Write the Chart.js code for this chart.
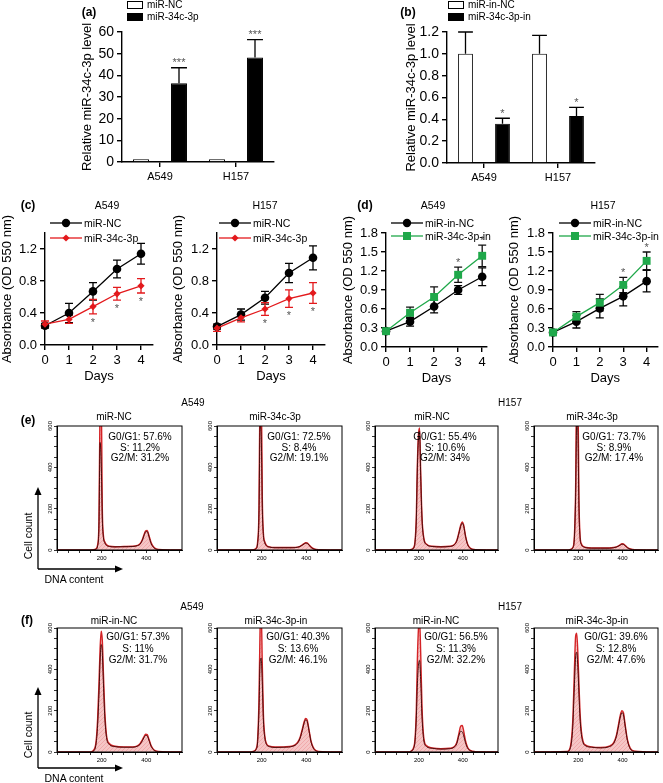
<!DOCTYPE html>
<html>
<head>
<meta charset="utf-8">
<script src="https://cdn.jsdelivr.net/npm/chart.js@4.4.1/dist/chart.umd.min.js"></script>
<style>
  html, body { margin: 0; background: #fff; }
  #fig { position: relative; width: 663px; height: 783px; overflow: hidden; font-family: "Liberation Sans", Arial, sans-serif; color: #000; }
  .t { position: absolute; white-space: nowrap; transform: translate(-50%, -50%); line-height: 1; z-index: 2; }
  .box { position: absolute; }
  .leg { position: absolute; display: flex; align-items: center; white-space: nowrap; line-height: 1; height: 12px; z-index: 2; }
  .key { display: inline-block; width: 14px; height: 6px; border: 1px solid #000; margin-right: 4px; }
</style>
</head>
<body>
<div id="fig"></div>
<script>
// (a) / (b) qRT-PCR
const cellLines = ['A549', 'H157'];
const aSeries = ['miR-NC', 'miR-34c-3p'];
const aNC = [1.3, 1.3];
const aMimic = [36.3, 48.2];
const aMimicErr = [7.2, 8.3];
const aStars = ['***', '***'];
const aTicks = [0, 10, 20, 30, 40, 50, 60];

const bSeries = ['miR-in-NC', 'miR-34c-3p-in'];
const bNC = [1.0, 1.0];
const bNCErr = [0.2, 0.17];
const bInh = [0.36, 0.43];
const bInhErr = [0.05, 0.08];
const bStars = ['*', '*'];
const bTicks = [0, 0.2, 0.4, 0.6, 0.8, 1.0, 1.2];

// (c) / (d) proliferation
const days = [0, 1, 2, 3, 4];
const cSeries = ['miR-NC', 'miR-34c-3p'];
const cTicks = [0, 0.2, 0.4, 0.6, 0.8, 1.0, 1.2, 1.4];
const cA549NC = [0.24, 0.40, 0.67, 0.95, 1.14];
const cA549NCErr = [0.03, 0.12, 0.11, 0.11, 0.13];
const cA549Mimic = [0.26, 0.32, 0.48, 0.64, 0.74];
const cA549MimicErr = [0.04, 0.05, 0.09, 0.08, 0.09];
const cH157NC = [0.23, 0.38, 0.59, 0.90, 1.09];
const cH157NCErr = [0.03, 0.07, 0.08, 0.12, 0.15];
const cH157Mimic = [0.21, 0.34, 0.45, 0.58, 0.65];
const cH157MimicErr = [0.04, 0.05, 0.08, 0.11, 0.13];
const cStars = ['', '', '*', '*', '*'];

const dSeries = ['miR-in-NC', 'miR-34c-3p-in'];
const dTicks = [0, 0.3, 0.6, 0.9, 1.2, 1.5, 1.8];
const dA549NC = [0.25, 0.40, 0.64, 0.90, 1.11];
const dA549NCErr = [0.02, 0.07, 0.10, 0.07, 0.14];
const dA549Inh = [0.25, 0.54, 0.79, 1.14, 1.44];
const dA549InhErr = [0.03, 0.09, 0.16, 0.12, 0.17];
const dH157NC = [0.23, 0.40, 0.61, 0.80, 1.04];
const dH157NCErr = [0.02, 0.10, 0.15, 0.15, 0.17];
const dH157Inh = [0.23, 0.48, 0.70, 0.98, 1.36];
const dH157InhErr = [0.03, 0.08, 0.13, 0.12, 0.14];
const dStars = ['', '', '', '*', '*'];

// (e) / (f) flow cytometry histograms
const histX = [0, 150, 165, 175, 182, 188, 193, 198, 203, 208, 214, 222, 235, 260, 300, 340, 360, 372, 382, 390, 397, 404, 412, 422, 435, 455, 560];
const histXTicks = [0, 50, 100, 150, 200, 250, 300, 350, 400, 450, 500, 550];
const histXLabels = [200, 400];
const histYTicks = [0, 50, 100, 150, 200, 250, 300, 350, 400, 450, 500, 550, 600];
const histYLabels = [0, 200, 400, 600];

const eTitles = ['miR-NC', 'miR-34c-3p', 'miR-NC', 'miR-34c-3p'];
const eObs = [
  [0, 0, 2, 6, 25, 140, 720, 760, 200, 70, 40, 25, 18, 16, 17, 18, 22, 30, 50, 75, 92, 95, 70, 35, 12, 3, 0],
  [0, 0, 2, 8, 40, 200, 800, 820, 250, 80, 40, 22, 15, 12, 12, 12, 14, 18, 25, 31, 35, 34, 26, 14, 5, 1, 0],
  [0, 0, 3, 10, 40, 160, 420, 560, 590, 380, 160, 60, 28, 18, 16, 18, 25, 45, 85, 120, 136, 120, 70, 28, 8, 2, 0],
  [0, 0, 3, 12, 60, 300, 850, 800, 250, 70, 30, 18, 12, 10, 10, 10, 12, 15, 20, 26, 30, 29, 22, 12, 5, 1, 0],
];
const eFit = [
  [0, 0, 1, 4, 20, 120, 520, 430, 150, 60, 35, 22, 17, 15, 16, 17, 21, 28, 46, 70, 88, 90, 65, 30, 10, 2, 0],
  [0, 0, 1, 6, 32, 170, 600, 560, 200, 70, 35, 20, 14, 11, 11, 11, 13, 17, 23, 29, 33, 32, 24, 12, 4, 1, 0],
  [0, 0, 2, 8, 35, 140, 400, 545, 575, 360, 150, 55, 26, 17, 15, 17, 24, 42, 80, 114, 130, 114, 66, 25, 7, 2, 0],
  [0, 0, 2, 10, 50, 260, 620, 580, 200, 60, 26, 16, 11, 9, 9, 9, 11, 14, 19, 24, 28, 27, 20, 11, 4, 1, 0],
];
const eG1 = ['57.6', '72.5', '55.4', '73.7'];
const eS = ['11.2', '8.4', '10.6', '8.9'];
const eG2M = ['31.2', '19.1', '34', '17.4'];

const fTitles = ['miR-in-NC', 'miR-34c-3p-in', 'miR-in-NC', 'miR-34c-3p-in'];
const fObs = [
  [0, 0, 10, 50, 160, 330, 500, 585, 540, 380, 200, 80, 40, 28, 25, 25, 30, 40, 58, 75, 86, 84, 62, 30, 10, 3, 0],
  [0, 0, 4, 15, 60, 250, 600, 680, 420, 180, 80, 40, 28, 24, 25, 30, 45, 70, 110, 145, 162, 155, 110, 50, 15, 3, 0],
  [0, 0, 5, 20, 60, 200, 450, 600, 640, 480, 220, 70, 30, 20, 16, 18, 25, 45, 90, 125, 128, 100, 55, 22, 7, 2, 0],
  [0, 3, 30, 150, 380, 560, 575, 480, 330, 190, 100, 50, 32, 25, 22, 28, 45, 80, 135, 180, 200, 190, 130, 60, 18, 4, 0],
];
const fFit = [
  [0, 0, 6, 40, 130, 280, 440, 520, 480, 330, 170, 70, 36, 26, 23, 23, 28, 37, 54, 70, 80, 78, 57, 27, 8, 2, 0],
  [0, 0, 3, 12, 50, 200, 430, 455, 330, 150, 70, 36, 26, 22, 23, 28, 42, 66, 104, 138, 155, 148, 104, 46, 13, 2, 0],
  [0, 0, 4, 16, 50, 160, 330, 420, 443, 350, 170, 58, 26, 18, 14, 16, 23, 40, 80, 100, 98, 78, 45, 18, 6, 1, 0],
  [0, 2, 22, 120, 310, 460, 483, 410, 280, 160, 85, 44, 29, 23, 20, 26, 42, 75, 126, 170, 190, 180, 122, 55, 15, 3, 0],
];
const fG1 = ['57.3', '40.3', '56.5', '39.6'];
const fS = ['11', '13.6', '11.3', '12.8'];
const fG2M = ['31.7', '46.1', '32.2', '47.6'];

const FONT = '"Liberation Sans", Arial, sans-serif';
const RED = '#e3191c';
const GREEN = '#1fa84a';
Chart.defaults.font.family = FONT;
Chart.defaults.color = '#000';
Chart.defaults.animation = false;
Chart.defaults.plugins.legend.display = false;
Chart.defaults.plugins.tooltip.enabled = false;

const fig = document.getElementById('fig');
const valueOf = (d) => (typeof d === 'object' ? d.y : d);

// pink fill with faint red hatching, like the cytometry software output
function hatch() {
  const c = document.createElement('canvas');
  c.width = 4;
  c.height = 4;
  const g = c.getContext('2d');
  g.fillStyle = 'rgba(240, 160, 160, 0.6)';
  g.fillRect(0, 0, 4, 4);
  g.strokeStyle = 'rgba(215, 60, 65, 0.3)';
  g.lineWidth = 0.7;
  g.beginPath();
  g.moveTo(0, 4);
  g.lineTo(4, 0);
  g.stroke();
  return g.createPattern(c, 'repeat');
}
const histFill = hatch();

// error bars under the marks, asterisks on top
Chart.register({
  id: 'errorBars',
  beforeDatasetsDraw(chart) {
    const { ctx } = chart;
    chart.data.datasets.forEach((ds, di) => {
      if (!ds.errors) return;
      const meta = chart.getDatasetMeta(di);
      const ys = chart.scales[meta.yAxisID];
      ctx.save();
      ctx.strokeStyle = ds.errorColor || '#000';
      ctx.lineWidth = 1.3;
      meta.data.forEach((el, i) => {
        const e = ds.errors[i];
        if (!e) return;
        const v = valueOf(ds.data[i]);
        const half = el.width ? el.width / 2 : 4;
        const top = ys.getPixelForValue(v + e);
        const bot = ys.getPixelForValue(ds.errorUp ? v : v - e);
        ctx.beginPath();
        ctx.moveTo(el.x, top);
        ctx.lineTo(el.x, bot);
        ctx.moveTo(el.x - half, top);
        ctx.lineTo(el.x + half, top);
        if (!ds.errorUp) {
          ctx.moveTo(el.x - half, bot);
          ctx.lineTo(el.x + half, bot);
        }
        ctx.stroke();
      });
      ctx.restore();
    });
  },
  afterDatasetsDraw(chart) {
    const { ctx } = chart;
    chart.data.datasets.forEach((ds, di) => {
      if (!ds.stars) return;
      const meta = chart.getDatasetMeta(di);
      const ys = chart.scales[meta.yAxisID];
      ctx.save();
      ctx.fillStyle = '#555';
      ctx.font = `11px ${FONT}`;
      ctx.textAlign = 'center';
      ctx.textBaseline = 'middle';
      meta.data.forEach((el, i) => {
        if (!ds.stars[i]) return;
        const v = valueOf(ds.data[i]);
        const e = ds.errors ? ds.errors[i] || 0 : 0;
        const y = ds.starBelow ? ys.getPixelForValue(v - e) + 6 : ys.getPixelForValue(v + e) - 7;
        ctx.fillText(ds.stars[i], el.x, y + 2.7);
      });
      ctx.restore();
    });
  },
});

// rotated y labels + closed frame for the histograms
Chart.register({
  id: 'histDeco',
  afterDraw(chart, args, opts) {
    if (!opts.values) return;
    const { ctx, chartArea } = chart;
    const ys = chart.scales.y;
    ctx.save();
    ctx.strokeStyle = '#000';
    ctx.lineWidth = 1;
    ctx.strokeRect(chartArea.left, chartArea.top, chartArea.right - chartArea.left, chartArea.bottom - chartArea.top);
    ctx.fillStyle = '#000';
    ctx.font = `6px ${FONT}`;
    ctx.textAlign = 'center';
    ctx.textBaseline = 'middle';
    opts.values.forEach((v) => {
      ctx.save();
      ctx.translate(chartArea.left - 7, ys.getPixelForValue(v));
      ctx.rotate(-Math.PI / 2);
      ctx.fillText(String(v), 0, 0);
      ctx.restore();
    });
    ctx.restore();
  },
});

function label(text, x, y, size, weight = 'normal', rotate = false) {
  const d = document.createElement('div');
  d.className = 't';
  d.textContent = text;
  d.style.left = x + 'px';
  d.style.top = y + 'px';
  d.style.fontSize = size + 'px';
  d.style.fontWeight = weight;
  if (rotate) d.style.transform = 'translate(-50%, -50%) rotate(-90deg)';
  fig.appendChild(d);
}

function boxKey(x, y, fill, text) {
  const d = document.createElement('div');
  d.className = 'leg';
  d.style.left = x + 'px';
  d.style.top = (y - 6) + 'px';
  d.style.fontSize = '10px';
  d.innerHTML = `<span class="key" style="background:${fill}"></span><span>${text}</span>`;
  fig.appendChild(d);
}

function lineKey(x, y, color, shape, text) {
  const marks = {
    circle: `<circle cx="16" cy="6" r="4.2" fill="${color}"/>`,
    diamond: `<polygon points="16,2.4 19.6,6 16,9.6 12.4,6" fill="${color}"/>`,
    square: `<rect x="12" y="2" width="8" height="8" fill="${color}"/>`,
  };
  const d = document.createElement('div');
  d.className = 'leg';
  d.style.left = x + 'px';
  d.style.top = (y - 6) + 'px';
  d.style.fontSize = '10.5px';
  d.innerHTML = `<svg width="32" height="12" style="margin-right:2px"><line x1="0" y1="6" x2="32" y2="6" stroke="${color}" stroke-width="1.3"/>${marks[shape]}</svg><span>${text}</span>`;
  fig.appendChild(d);
}

// area = plot area [left, top, right, bottom] in page pixels
function place(area, yW, xH, padT, padR, config) {
  const [l, t, r, b] = area;
  const wrap = document.createElement('div');
  wrap.className = 'box';
  wrap.style.left = (l - yW) + 'px';
  wrap.style.top = (t - padT) + 'px';
  wrap.style.width = (r - l + yW + padR) + 'px';
  wrap.style.height = (b - t + padT + xH) + 'px';
  const cv = document.createElement('canvas');
  wrap.appendChild(cv);
  fig.appendChild(wrap);
  const o = config.options;
  o.responsive = true;
  o.maintainAspectRatio = false;
  o.layout = { padding: { top: padT, right: padR, left: 0, bottom: 0 } };
  o.scales.x.afterFit = (s) => { s.height = xH; };
  o.scales.y.afterFit = (s) => { s.width = yW; };
  return new Chart(cv, config);
}

const axisLine = { color: '#000', width: 1.4 };
const tickGrid = { drawOnChartArea: false, tickLength: 5, color: '#000', lineWidth: 1.4 };

function valueAxis(ticks, digits, size, titleText, extra = {}) {
  return {
    type: 'linear',
    min: ticks[0],
    max: ticks[ticks.length - 1],
    afterBuildTicks: (s) => { s.ticks = ticks.map((v) => ({ value: v })); },
    border: axisLine,
    grid: tickGrid,
    ticks: { font: { size }, padding: 3, callback: (v) => v.toFixed(digits) },
    title: { display: true, text: titleText, font: { size: 13 }, padding: 0 },
    ...extra,
  };
}

// ---------- (a) and (b) ----------
function barPanel(area, yW, ds, ticks, digits) {
  return place(area, yW, 24, 22, 8, {
    type: 'bar',
    data: { labels: cellLines, datasets: ds },
    options: {
      scales: {
        x: {
          border: axisLine,
          grid: { ...tickGrid, offset: false },
          ticks: { font: { size: 11 }, padding: 3 },
        },
        y: valueAxis(ticks, digits, 14, 'Relative miR-34c-3p level'),
      },
    },
  });
}
const barStyle = { borderColor: '#000', borderWidth: 1, barPercentage: 0.42, categoryPercentage: 1 };

barPanel([122, 32, 274, 162], 42, [
  { label: aSeries[0], data: aNC, backgroundColor: '#fff', ...barStyle },
  { label: aSeries[1], data: aMimic, errors: aMimicErr, errorUp: true, stars: aStars, backgroundColor: '#000', ...barStyle },
], aTicks, 0);

barPanel([447, 32, 595, 163], 43, [
  { label: bSeries[0], data: bNC, errors: bNCErr, errorUp: true, backgroundColor: '#fff', ...barStyle, barPercentage: 0.4 },
  { label: bSeries[1], data: bInh, errors: bInhErr, errorUp: true, stars: bStars, backgroundColor: '#000', ...barStyle, barPercentage: 0.4 },
], bTicks, 1);

label('(a)', 89, 12, 12, 'bold');
boxKey(127, 5, '#fff', aSeries[0]);
boxKey(127, 17, '#000', aSeries[1]);
label('(b)', 408, 12, 12, 'bold');
boxKey(448, 5, '#fff', bSeries[0]);
boxKey(448, 17, '#000', bSeries[1]);

// ---------- (c) and (d) ----------
function series(name, vals, errs, color, errColor, shape, radius, order, stars, starBelow) {
  return {
    label: name,
    data: days.map((d, i) => ({ x: d, y: vals[i] })),
    errors: errs, errorColor: errColor, stars, starBelow,
    borderColor: color, backgroundColor: color, borderWidth: 1.3,
    pointStyle: shape, pointRadius: radius, pointBorderWidth: 0,
    tension: 0, clip: false, order,
  };
}

function growthPanel(area, yW, xMax, ticks, datasets) {
  return place(area, yW, 39, 34, area[2] > 650 ? 3 : 8, {
    type: 'line',
    data: { datasets },
    options: {
      scales: {
        x: {
          type: 'linear', min: 0, max: xMax,
          afterBuildTicks: (s) => { s.ticks = days.map((v) => ({ value: v })); },
          border: axisLine,
          grid: tickGrid,
          ticks: { font: { size: 13 }, padding: 3 },
          title: { display: true, text: 'Days', font: { size: 13 }, padding: 0 },
        },
        y: valueAxis(ticks, 1, 13, 'Absorbance (OD 550 nm)'),
      },
    },
  });
}

growthPanel([45, 233.3, 153, 345.3], 45, 4.5, cTicks, [
  series(cSeries[0], cA549NC, cA549NCErr, '#000', '#000', 'circle', 4.3, 2),
  series(cSeries[1], cA549Mimic, cA549MimicErr, RED, RED, 'rectRot', 3.6, 1, cStars, true),
]);
growthPanel([217, 233.3, 325, 345.3], 46, 4.5, cTicks, [
  series(cSeries[0], cH157NC, cH157NCErr, '#000', '#000', 'circle', 4.3, 2),
  series(cSeries[1], cH157Mimic, cH157MimicErr, RED, RED, 'rectRot', 3.6, 1, cStars, true),
]);
growthPanel([386, 233, 487, 347], 45, 4.2, dTicks, [
  series(dSeries[0], dA549NC, dA549NCErr, '#000', '#000', 'circle', 4.3, 2),
  series(dSeries[1], dA549Inh, dA549InhErr, GREEN, '#111', 'rect', 5.6, 1, dStars, false),
]);
growthPanel([553, 233, 660, 347], 46, 4.46, dTicks, [
  series(dSeries[0], dH157NC, dH157NCErr, '#000', '#000', 'circle', 4.3, 2),
  series(dSeries[1], dH157Inh, dH157InhErr, GREEN, '#111', 'rect', 5.6, 1, dStars, false),
]);

label('(c)', 28, 205, 12, 'bold');
label(cellLines[0], 107, 205, 10.5);
label(cellLines[1], 265, 205, 10.5);
lineKey(50, 223, '#000', 'circle', cSeries[0]);
lineKey(50, 238, RED, 'diamond', cSeries[1]);
lineKey(219, 223, '#000', 'circle', cSeries[0]);
lineKey(219, 238, RED, 'diamond', cSeries[1]);

label('(d)', 365, 205, 12, 'bold');
label(cellLines[0], 433, 205, 10.5);
label(cellLines[1], 603, 205, 10.5);
lineKey(391, 223, '#000', 'circle', dSeries[0]);
lineKey(391, 236, GREEN, 'square', dSeries[1]);
lineKey(559, 223, '#000', 'circle', dSeries[0]);
lineKey(559, 236, GREEN, 'square', dSeries[1]);

// ---------- (e) and (f) ----------
const histCols = [[57, 182], [217, 342], [375, 498], [534, 658]];

function histPanel(area, obs, fit) {
  return place(area, 12, 14, 8, 3, {
    type: 'line',
    data: {
      datasets: [
        {
          data: histX.map((x, i) => ({ x, y: fit[i] })),
          borderColor: '#4a0d0d', borderWidth: 1, pointRadius: 0, fill: false,
          cubicInterpolationMode: 'monotone', order: 1,
        },
        {
          data: histX.map((x, i) => ({ x, y: obs[i] })),
          borderColor: '#d42326', borderWidth: 1.4, pointRadius: 0,
          fill: 'origin', backgroundColor: histFill,
          cubicInterpolationMode: 'monotone', order: 2,
        },
      ],
    },
    options: {
      plugins: { histDeco: { values: histYLabels } },
      scales: {
        x: {
          type: 'linear', min: 0, max: 560,
          afterBuildTicks: (s) => { s.ticks = histXTicks.map((v) => ({ value: v })); },
          border: { color: '#000', width: 1 },
          grid: { drawOnChartArea: false, tickLength: 3, color: '#000', lineWidth: 0.8 },
          ticks: { font: { size: 6 }, padding: 2, maxRotation: 0, autoSkip: false,
            callback: (v) => (histXLabels.includes(v) ? String(v) : '') },
        },
        y: {
          type: 'linear', min: 0, max: 600,
          afterBuildTicks: (s) => { s.ticks = histYTicks.map((v) => ({ value: v })); },
          border: { color: '#000', width: 1 },
          grid: { drawOnChartArea: false, tickLength: 3, color: '#000', lineWidth: 0.8 },
          ticks: { display: false },
        },
      },
    },
  });
}

histCols.forEach(([l, r], k) => {
  histPanel([l, 426, r, 550], eObs[k], eFit[k]);
  histPanel([l, 628, r, 752], fObs[k], fFit[k]);
});

const eTitleX = [114, 275, 432, 592];
const fTitleX = [114, 276, 436, 597];
const eStatX = [140, 299, 445, 614];
const fStatX = [138, 298, 456, 616];

label('(e)', 28, 420, 12, 'bold');
label(cellLines[0], 193, 403, 10);
label(cellLines[1], 510, 403, 10);
eTitles.forEach((t, k) => {
  label(t, eTitleX[k], 417, 10);
  label(`G0/G1: ${eG1[k]}%`, eStatX[k], 437, 10);
  label(`S: ${eS[k]}%`, eStatX[k], 447.5, 10);
  label(`G2/M: ${eG2M[k]}%`, eStatX[k], 458, 10);
});

label('(f)', 27, 620, 12, 'bold');
label(cellLines[0], 192, 607, 10);
label(cellLines[1], 510, 607, 10);
fTitles.forEach((t, k) => {
  label(t, fTitleX[k], 621, 10);
  label(`G0/G1: ${fG1[k]}%`, fStatX[k], 637, 10);
  label(`S: ${fS[k]}%`, fStatX[k], 648.5, 10);
  label(`G2/M: ${fG2M[k]}%`, fStatX[k], 660, 10);
});

// axis arrows for the flow panels
[[569, 487], [768, 687]].forEach(([corner, tip]) => {
  const svg = document.createElementNS('http://www.w3.org/2000/svg', 'svg');
  svg.setAttribute('width', '663');
  svg.setAttribute('height', '783');
  svg.style.cssText = 'position:absolute;left:0;top:0;pointer-events:none';
  svg.innerHTML =
    `<path d="M38 ${corner} V${tip + 6} M38 ${corner} H116" stroke="#000" stroke-width="1.3" fill="none"/>` +
    `<polygon points="38,${tip} 34.5,${tip + 8} 41.5,${tip + 8}" fill="#000"/>` +
    `<polygon points="123,${corner} 115,${corner - 3.5} 115,${corner + 3.5}" fill="#000"/>`;
  fig.appendChild(svg);
  label('Cell count', 28, corner - 33, 10.5, 'normal', true);
  label('DNA content', 74, corner + 10, 10.5);
});
</script>
</body>
</html>
